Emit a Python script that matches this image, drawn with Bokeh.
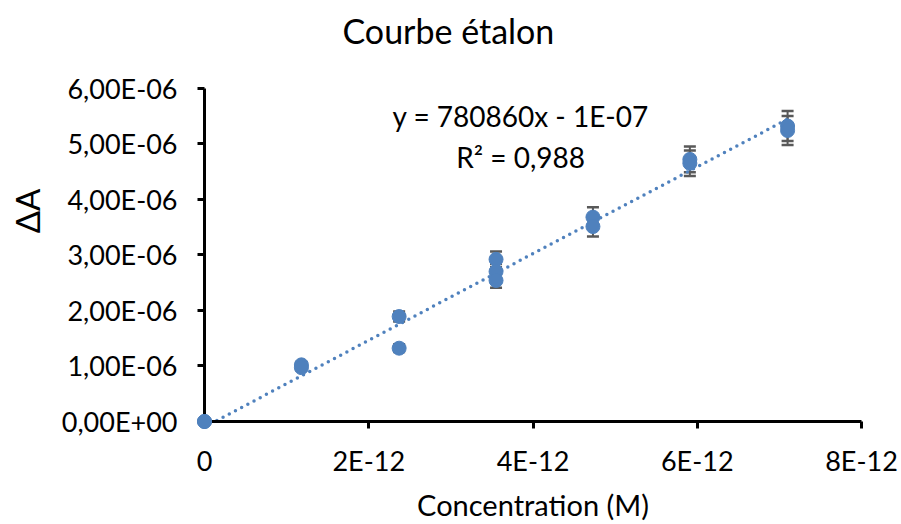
from bokeh.plotting import figure
from bokeh.models import (ColumnDataSource, Range1d, FixedTicker, CustomJSTickFormatter,
                          Whisker, TeeHead, Label)
from bokeh.embed import file_html
from bokeh.resources import INLINE

# ---- data ----
concentration = [0, 0, 1.18e-12, 1.18e-12, 2.37e-12, 2.37e-12,
                 3.55e-12, 3.55e-12, 3.55e-12, 4.73e-12, 4.73e-12,
                 5.91e-12, 5.91e-12, 7.10e-12, 7.10e-12]
delta_a = [0, 0, 1.02e-6, 0.97e-6, 1.89e-6, 1.32e-6,
           2.92e-6, 2.70e-6, 2.54e-6, 3.68e-6, 3.51e-6,
           4.72e-6, 4.65e-6, 5.32e-6, 5.24e-6]
error = [0, 0, 0.05e-6, 0.05e-6, 0.09e-6, 0.07e-6,
         0.14e-6, 0.14e-6, 0.13e-6, 0.18e-6, 0.18e-6,
         0.23e-6, 0.23e-6, 0.27e-6, 0.26e-6]

trend_slope = 780860
trend_intercept = -1e-07
equation_text = "y = 780860x - 1E-07"
r2_text = "R² = 0,988"

x_ticks = [0, 2e-12, 4e-12, 6e-12, 8e-12]
x_tick_labels = ["0", "2E-12", "4E-12", "6E-12", "8E-12"]
y_ticks = [0, 1e-6, 2e-6, 3e-6, 4e-6, 5e-6, 6e-6]
y_tick_labels = ["0,00E+00", "1,00E-06", "2,00E-06", "3,00E-06",
                 "4,00E-06", "5,00E-06", "6,00E-06"]

title_text = "Courbe étalon"
x_title = "Concentration (M)"
y_title = "ΔA"

BLUE = "#4F81BD"
FONT = "Lato"

# plot frame runs to the top of the canvas so the title can sit inside it;
# the y axis itself is bounded to 0 .. 6E-06
Y_TOP = y_ticks[-1] * 422 / 334

src = ColumnDataSource(dict(
    x=concentration, y=delta_a,
    upper=[v + e for v, e in zip(delta_a, error)],
    lower=[v - e for v, e in zip(delta_a, error)],
))

p = figure(width=901, height=524,
           x_range=Range1d(x_ticks[0], x_ticks[-1]),
           y_range=Range1d(y_ticks[0], Y_TOP),
           output_backend="svg", toolbar_location=None,
           min_border_left=204, min_border_right=40,
           min_border_top=0, min_border_bottom=102)
p.title.visible = False

p.xgrid.visible = False
p.ygrid.visible = False
p.outline_line_color = None

fmt_code = """
let best = 0, bd = Infinity;
for (let i = 0; i < tvals.length; i++) {
  const d = Math.abs(tvals[i] - tick);
  if (d < bd) { bd = d; best = i; }
}
return tlabels[best];
"""
p.xaxis.ticker = FixedTicker(ticks=x_ticks)
p.yaxis.ticker = FixedTicker(ticks=y_ticks)
p.xaxis.formatter = CustomJSTickFormatter(args=dict(tvals=x_ticks, tlabels=x_tick_labels), code=fmt_code)
p.yaxis.formatter = CustomJSTickFormatter(args=dict(tvals=y_ticks, tlabels=y_tick_labels), code=fmt_code)
p.yaxis.bounds = (y_ticks[0], y_ticks[-1])

for ax in (p.xaxis[0], p.yaxis[0]):
    ax.axis_line_color = "black"
    ax.axis_line_width = 3
    ax.major_tick_line_color = "black"
    ax.major_tick_line_width = 3
    ax.major_tick_out = 7
    ax.major_tick_in = 0
    ax.minor_tick_line_color = None
    ax.major_label_text_font = FONT
    ax.major_label_text_font_size = "27px"
    ax.major_label_text_color = "black"
    ax.axis_label_text_font = FONT
    ax.axis_label_text_font_style = "normal"
    ax.axis_label_text_color = "black"

p.xaxis.axis_label = x_title
p.xaxis.axis_label_text_font_size = "29px"
p.xaxis.major_label_standoff = 15
p.xaxis.axis_label_standoff = 7

p.yaxis.axis_label = y_title
p.yaxis.axis_label_text_font_size = "33px"
p.yaxis.major_label_standoff = 20
p.yaxis.axis_label_standoff = 12

# trendline from the displayed equation
tx = [min(concentration), max(concentration)]
ty = [trend_slope * v + trend_intercept for v in tx]
p.line(tx, ty, line_color=BLUE, line_width=3.5, line_dash="0 7", line_cap="round")

# error bars
eb_head = dict(size=12, line_color="#595959", line_width=2.5)
p.add_layout(Whisker(base="x", upper="upper", lower="lower", source=src,
                     line_color="#595959", line_width=2,
                     upper_head=TeeHead(**eb_head), lower_head=TeeHead(**eb_head)))

p.scatter("x", "y", source=src, size=14, fill_color=BLUE, line_color=BLUE, level="overlay")

for txt, yv in ((equation_text, 5.5e-6), (r2_text, 4.77e-6)):
    p.add_layout(Label(x=3.85e-12, y=yv, text=txt, text_align="center",
                       text_baseline="middle", text_font=FONT,
                       text_font_size="28px", text_color="black"))

# chart title, centred over the whole chart area
p.add_layout(Label(x=2.97e-12, y=7.04e-6, text=title_text, text_align="center",
                   text_baseline="middle", text_font=FONT,
                   text_font_size="34px", text_color="black"))

open("out.html", "w").write(file_html(p, INLINE))
